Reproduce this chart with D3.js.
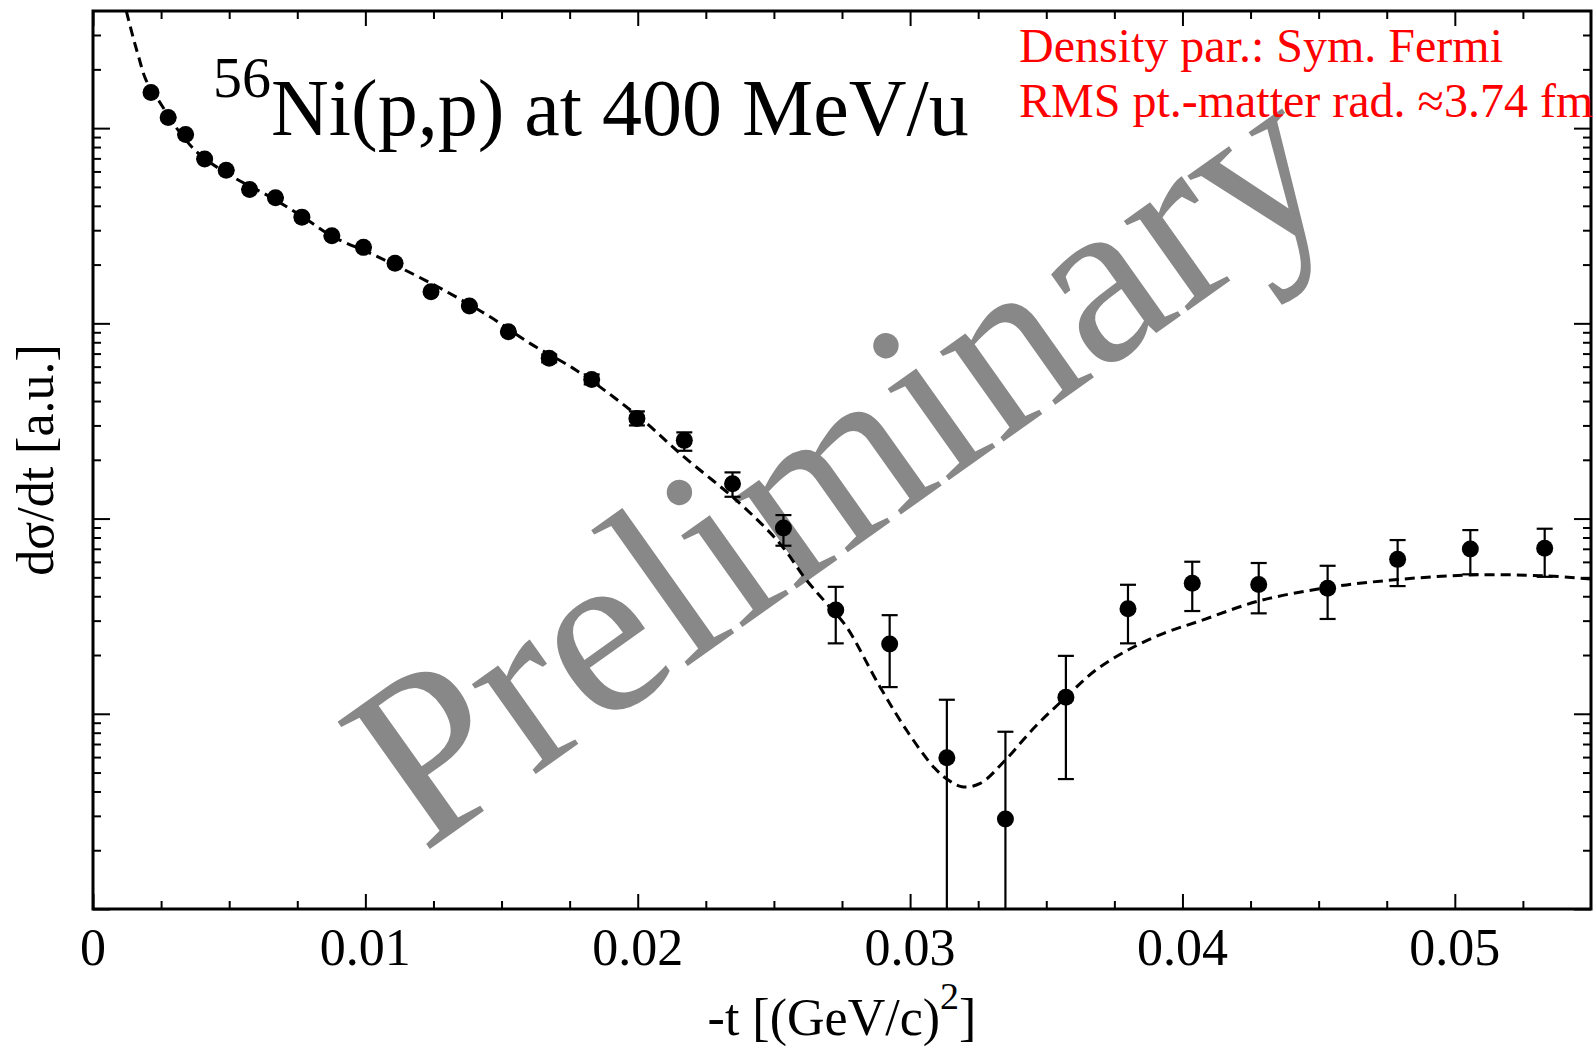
<!DOCTYPE html>
<html>
<head>
<meta charset="utf-8">
<script src="https://cdn.jsdelivr.net/npm/d3@7"></script>
<style>
  body { margin: 0; background: #fff; }
  svg { display: block; }
  text { font-family: "Liberation Serif", "Times New Roman", serif; }
</style>
</head>
<body>
<script>
'use strict';

// measured points: -t [(GeV/c)^2] and dsigma/dt [a.u.] with error limits
let tData = [0.00213, 0.00276, 0.00340, 0.00410, 0.00489, 0.00575, 0.00670, 0.00767,
  0.00877, 0.00993, 0.01109, 0.01241, 0.01382, 0.01525, 0.01675, 0.01831, 0.01997,
  0.02171, 0.02348, 0.02535, 0.02727, 0.02925, 0.03135, 0.03350, 0.03572, 0.03800,
  0.04036, 0.04280, 0.04533, 0.04790, 0.05057, 0.05330];
let sigma = [15230, 11350, 9280, 6940, 6090, 4850, 4400, 3500, 2810, 2450, 2030, 1450,
  1226, 905, 662, 516, 326, 251.5, 150.8, 89.4, 34.0, 22.8, 5.95, 2.89, 12.14, 34.5,
  46.6, 46.0, 43.9, 61.8, 69.8, 70.4];
let sigmaLow = [15230, 11350, 9280, 6940, 6090, 4850, 4400, 3500, 2810, 2450, 2030, 1450,
  1226, 905, 631, 486.8, 300, 222.5, 129.3, 72.6, 22.95, 13.7, 0.5, 0.5, 4.63, 22.95,
  33.6, 32.7, 30.6, 45.1, 51.8, 50.3];
let sigmaHigh = [15230, 11350, 9280, 6940, 6090, 4850, 4400, 3500, 2810, 2450, 2030, 1450,
  1226, 905, 693, 547.5, 354, 276.4, 172.4, 104.2, 44.7, 32.0, 11.8, 8.09, 19.8, 45.8,
  60.1, 59.2, 57.3, 77.6, 87.3, 88.7];

// calculated curve (dashed)
let tFit = [0.001225, 0.001434, 0.001676, 0.001948, 0.002472, 0.003206, 0.003940,
  0.005150, 0.006387, 0.007608, 0.008819, 0.010055, 0.011093, 0.012990, 0.014578,
  0.016045, 0.017634, 0.019101, 0.020327, 0.021548, 0.023749, 0.025216, 0.026196,
  0.026930, 0.027663, 0.028885, 0.029890, 0.030899, 0.031401, 0.031904, 0.032575,
  0.033500, 0.034589, 0.035715, 0.036772, 0.037997, 0.039288, 0.040631, 0.042795,
  0.045330, 0.047898, 0.050565, 0.053301, 0.055];
let sigmaFit = [39720, 30550, 23190, 17610, 13430, 9428, 7273, 5610, 4538, 3584, 2775,
  2325, 1988, 1451, 1080, 789.5, 588, 420.6, 307.4, 215.8, 119.6, 74.6, 48.4, 36.8,
  27.9, 13.8, 8.16, 5.27, 4.58, 4.23, 4.40, 5.80, 8.58, 12.14, 16.56, 21.21, 25.76,
  29.85, 37.8, 44.32, 48.71, 51.4, 50.9, 49.0];

// axis ticks
let xTicks = [0, 0.01, 0.02, 0.03, 0.04, 0.05];
let xTickLabels = ["0", "0.01", "0.02", "0.03", "0.04", "0.05"];
let xMinorTicks = [0.0025, 0.005, 0.0075, 0.0125, 0.015, 0.0175, 0.0225, 0.025, 0.0275,
  0.0325, 0.035, 0.0375, 0.0425, 0.045, 0.0475, 0.0525];
let yDecades = [1, 10, 100, 1000, 10000];

let margin = { top: 11, left: 93, bottom: 138, right: 5 };
let width = 1596 - margin.left - margin.right,
  height = 1047 - margin.top - margin.bottom;

let svg = d3.select("body").append("svg")
  .attr("width", 1596)
  .attr("height", 1047);

let g = svg.append("g")
  .attr("transform", "translate(" + margin.left + "," + margin.top + ")");

let x = d3.scaleLinear().domain([0, 0.055]).range([0, width]);
let y = d3.scaleLog().domain([1, 39810]).range([height, 0]);

drawAxes();
drawWatermark();
drawData();
drawTexts();

// ticks on all four sides, pointing inward
function drawAxes() {
  let yMinor = y.ticks().filter(v => Math.abs(Math.log10(v) - Math.round(Math.log10(v))) > 1e-6);

  let axes = [
    [d3.axisBottom(x).tickValues(xTicks).tickSize(-15), "translate(0," + height + ")"],
    [d3.axisBottom(x).tickValues(xMinorTicks).tickSize(-8), "translate(0," + height + ")"],
    [d3.axisTop(x).tickValues(xTicks).tickSize(-15), "translate(0,0)"],
    [d3.axisTop(x).tickValues(xMinorTicks).tickSize(-8), "translate(0,0)"],
    [d3.axisLeft(y).tickValues(yDecades).tickSize(-17), "translate(0,0)"],
    [d3.axisLeft(y).tickValues(yMinor).tickSize(-8), "translate(0,0)"],
    [d3.axisRight(y).tickValues(yDecades).tickSize(-17), "translate(" + width + ",0)"],
    [d3.axisRight(y).tickValues(yMinor).tickSize(-8), "translate(" + width + ",0)"]
  ];

  axes.forEach(a => {
    let ax = g.append("g")
      .attr("transform", a[1])
      .call(a[0].tickFormat(""));
    ax.select(".domain").remove();
    ax.selectAll("line").attr("stroke", "#000").attr("stroke-width", 2);
  });

  // frame
  g.append("rect")
    .attr("x", 0).attr("y", 0)
    .attr("width", width).attr("height", height)
    .attr("fill", "none")
    .attr("stroke", "#000")
    .attr("stroke-width", 3);

  // x tick labels
  g.selectAll(".xlabel")
    .data(xTicks)
    .enter()
    .append("text")
    .attr("class", "xlabel")
    .attr("x", d => x(d))
    .attr("y", height + 56)
    .attr("text-anchor", "middle")
    .style("font-size", "52px")
    .text((d, i) => xTickLabels[i]);
}

// grey stamp, drawn below the data
function drawWatermark() {
  g.append("text")
    .attr("transform", "translate(" + (423 - margin.left) + "," + (854 - margin.top) + ") rotate(-35.4)")
    .style("font-size", "240px")
    .attr("fill", "#888888")
    .text("Preliminary");
}

function drawData() {
  g.append("clipPath")
    .attr("id", "plotClip")
    .append("rect")
    .attr("width", width)
    .attr("height", height);

  let plot = g.append("g").attr("clip-path", "url(#plotClip)");

  // dashed model curve
  let fit = tFit.map((t, i) => [t, sigmaFit[i]]);
  plot.append("path")
    .datum(fit)
    .attr("fill", "none")
    .attr("stroke", "#000")
    .attr("stroke-width", 3)
    .attr("stroke-dasharray", "10,6")
    .attr("d", d3.line().x(d => x(d[0])).y(d => y(d[1])).curve(d3.curveCatmullRom.alpha(0.5)));

  let pts = tData.map((t, i) => ({ t: t, v: sigma[i], lo: sigmaLow[i], hi: sigmaHigh[i] }));

  // error bars
  plot.selectAll(".err")
    .data(pts)
    .enter()
    .append("line")
    .attr("class", "err")
    .attr("x1", d => x(d.t)).attr("x2", d => x(d.t))
    .attr("y1", d => y(d.lo)).attr("y2", d => y(d.hi))
    .attr("stroke", "#000")
    .attr("stroke-width", 2.2);

  ["lo", "hi"].forEach(k => {
    plot.selectAll(".cap-" + k)
      .data(pts)
      .enter()
      .append("line")
      .attr("class", "cap-" + k)
      .attr("x1", d => x(d.t) - 8).attr("x2", d => x(d.t) + 8)
      .attr("y1", d => y(d[k])).attr("y2", d => y(d[k]))
      .attr("stroke", "#000")
      .attr("stroke-width", 2.2);
  });

  // points
  g.selectAll(".pt")
    .data(pts)
    .enter()
    .append("circle")
    .attr("class", "pt")
    .attr("cx", d => x(d.t))
    .attr("cy", d => y(d.v))
    .attr("r", 8.5)
    .attr("fill", "#000");
}

function drawTexts() {
  // title with mass number
  let title = svg.append("text").attr("fill", "#000");
  title.append("tspan")
    .attr("x", 213).attr("y", 97)
    .style("font-size", "58px")
    .text("56");
  title.append("tspan")
    .attr("y", 135)
    .style("font-size", "80px")
    .text("Ni(p,p) at 400 MeV/u");

  // fit info
  svg.append("text")
    .attr("x", 1019).attr("y", 62)
    .attr("fill", "#ff0000")
    .style("font-size", "48px")
    .text("Density par.: Sym. Fermi");
  svg.append("text")
    .attr("x", 1019).attr("y", 117)
    .attr("fill", "#ff0000")
    .style("font-size", "48px")
    .text("RMS pt.-matter rad. \u22483.74 fm");

  // x axis label
  let xl = svg.append("text")
    .attr("x", margin.left + width / 2)
    .attr("y", 1035)
    .attr("text-anchor", "middle")
    .style("font-size", "52px");
  xl.append("tspan").text("-t [(GeV/c)");
  xl.append("tspan").attr("dy", -26).style("font-size", "38px").text("2");
  xl.append("tspan").attr("dy", 26).text("]");

  // y axis label
  svg.append("text")
    .attr("transform", "translate(53," + (margin.top + height / 2) + ") rotate(-90)")
    .attr("text-anchor", "middle")
    .style("font-size", "52px")
    .text("d\u03c3/dt [a.u.]");
}
</script>
</body>
</html>
